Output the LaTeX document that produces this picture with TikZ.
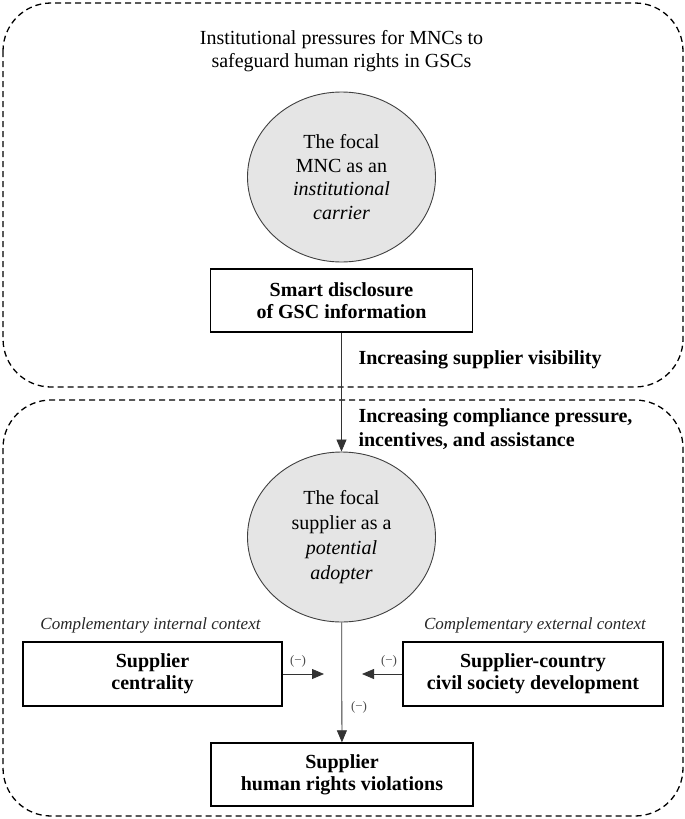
\documentclass[tikz,border=0pt]{standalone}
\usepackage{fontspec}
\setmainfont{Liberation Serif}
\usetikzlibrary{shapes.geometric,arrows.meta}

\begin{document}
\begin{tikzpicture}[x=1pt,y=-1pt,
  region/.style={draw, dash pattern=on 6pt off 4pt, line width=1.3pt, rounded corners=48pt},
  focal/.style={ellipse, draw=black!75, line width=0.9pt, fill=black!10, minimum width=188pt,
    minimum height=170pt, inner sep=0pt, align=center, font=\fontsize{20}{23.5}\selectfont},
  factor/.style={draw, line width=1.4pt, minimum width=262pt, minimum height=63pt, inner sep=0pt,
    align=center, font=\fontsize{20}{22}\selectfont\bfseries},
  link/.style={draw=black!80, line width=0.8pt, -{Triangle[length=12pt,width=10pt]}},
  minus/.style={font=\fontsize{13}{13}\selectfont, text=black!70},
  context/.style={font=\fontsize{17}{17}\selectfont\itshape, text=black!85}]

\useasboundingbox (0,0) rectangle (685,819);

% the two fields
\draw[region] (3,3) rectangle (683,387);
\draw[region] (3,400) rectangle (683,816);

\node[align=center, font=\fontsize{20}{23.5}\selectfont] (title) at (341.5,51)
  {Institutional pressures for MNCs to\\safeguard human rights in GSCs};

\node[focal] (mnc) at (341.5,177) {The focal\\MNC as an\\\textit{institutional}\\\textit{carrier}};
\node[factor] (disc) at (341.5,300.5) {Smart disclosure\\of GSC information};

\node[anchor=west, font=\fontsize{20}{23.5}\selectfont\bfseries] (vis) at (355,360)
  {Increasing supplier visibility};
\node[anchor=west, align=left, font=\fontsize{20}{23.5}\selectfont\bfseries] (comp) at (355,429)
  {Increasing compliance pressure,\\incentives, and assistance};

\node[focal, font=\fontsize{20}{25}\selectfont] (supp) at (341.5,537)
  {The focal\\supplier as a\\\textit{potential}\\\textit{adopter}};

% moderators
\node[context] (inctx) at (150.5,625) {Complementary internal context};
\node[context] (exctx) at (535,625) {Complementary external context};
\node[factor, minimum width=259pt, minimum height=64pt] (central) at (152.5,674) {Supplier\\centrality};
\node[factor, minimum width=260pt, minimum height=64pt] (civil) at (533,674)
  {Supplier-country\\civil society development};

\node[factor] (viol) at (342,774.5) {Supplier\\human rights violations};

\coordinate (lefttip) at (324,674);
\coordinate (righttip) at (362,674);

\draw[link] (disc) -- (supp);
\draw[link] (supp) -- (viol);
\draw[link] (central) -- (lefttip);
\draw[link] (civil) -- (righttip);

\node[minus] (m1) at (298,661) {(−)};
\node[minus] (m2) at (389,661) {(−)};
\node[minus] (m3) at (359,707) {(−)};

\end{tikzpicture}
\end{document}
